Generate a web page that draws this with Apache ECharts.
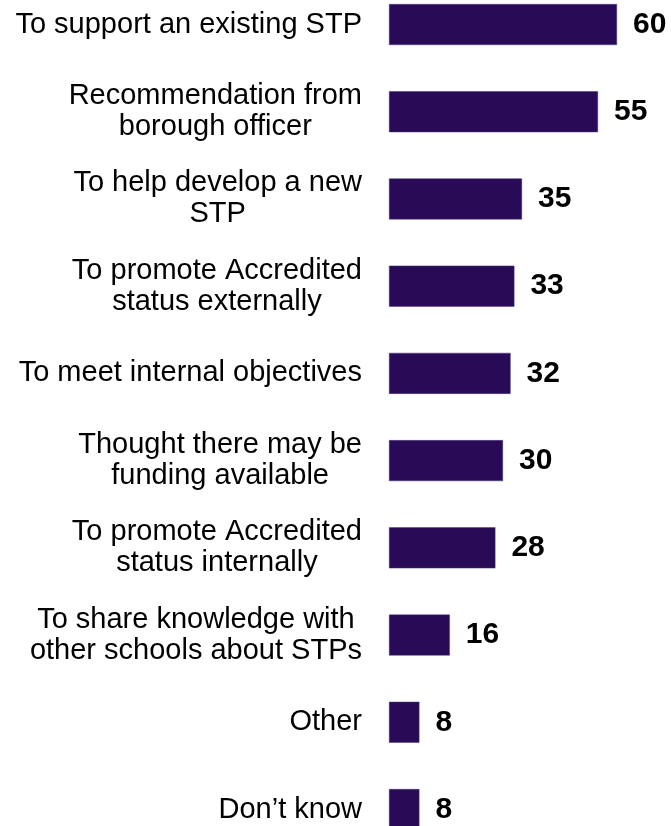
<!DOCTYPE html>
<html>
<head>
<meta charset="utf-8">
<script src="https://cdn.jsdelivr.net/npm/echarts@6/dist/echarts.min.js"></script>
<style>
  html, body { margin: 0; padding: 0; background: #fff; }
  #chart { width: 671px; height: 826px; }
</style>
</head>
<body>
<div id="chart"></div>
<script>
// reasons, top to bottom
const categories = [
  'To support an existing STP',
  'Recommendation from\nborough officer',
  'To help develop a new\nSTP',
  'To promote Accredited\nstatus externally',
  'To meet internal objectives',
  'Thought there may be\nfunding available',
  'To promote Accredited\nstatus internally',
  'To share knowledge with\nother schools about STPs',
  'Other',
  'Don\u2019t know'
]
const values = [60, 55, 35, 33, 32, 30, 28, 16, 8, 8]

let chartDom = document.getElementById('chart')
let myChart = echarts.init(chartDom)

let options = {
  animation: false,
  grid: {
    left: 389,
    width: 266,
    top: 24.5,
    bottom: 16.5
  },
  xAxis: {
    type: 'value',
    min: 0,
    max: 70,
    show: false
  },
  yAxis: {
    type: 'category',
    inverse: true,
    boundaryGap: false,
    data: categories,
    axisLine: { show: false },
    axisTick: { show: false },
    splitLine: { show: false },
    axisLabel: {
      margin: 27,
      align: 'right',
      // each line centred inside the label block
      formatter: function (val) {
        return val.split('\n').map(s => '{c|' + s + '}').join('\n')
      },
      rich: {
        c: {
          align: 'center',
          fontFamily: 'Liberation Sans, Arial, sans-serif',
          fontSize: 29,
          lineHeight: 31,
          color: '#000'
        }
      }
    }
  },
  series: [
    {
      type: 'bar',
      data: values,
      barWidth: 41,
      clip: false,
      itemStyle: {
        color: '#280a57',
        borderColor: '#4a3a7a',
        borderWidth: 0.5
      },
      label: {
        show: true,
        position: 'right',
        distance: 16,
        fontFamily: 'Liberation Sans, Arial, sans-serif',
        fontSize: 30,
        fontWeight: 'bold',
        color: '#000'
      }
    }
  ]
}
myChart.setOption(options)
</script>
</body>
</html>
